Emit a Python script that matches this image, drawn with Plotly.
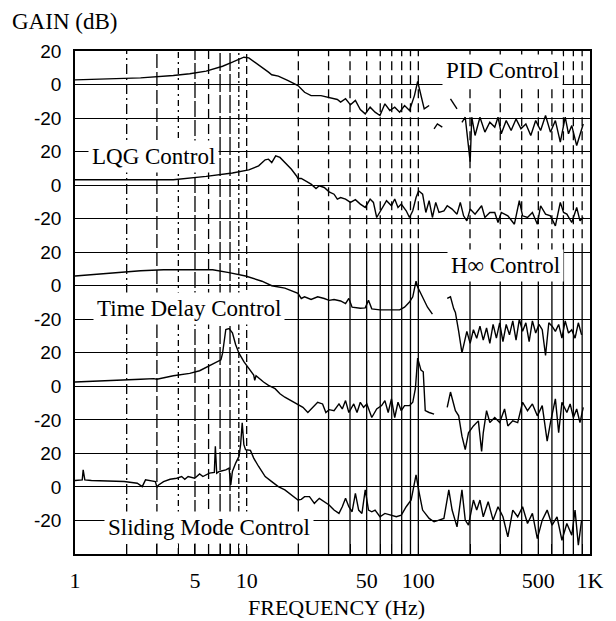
import plotly.graph_objects as go

# ---------------- data (frequency in Hz, gain in dB) ----------------
PID_FREQ = [1.0, 1.55, 2.41, 3.74, 4.66, 5.81, 7.24, 8.26, 9.02, 9.63, 10.29, 10.99, 12.27, 13.4, 14.0,
            15.29, 17.44, 19.9, 21.74, 23.73, 27.08, 30.9, 33.74, 35.26, 37.67, 40.24, 42.99, 45.92, 49.05,
            52.39, 55.97, 59.78, 63.86, 68.21, 72.86, 77.82, 83.13, 88.8, 94.9, 99.1, 103.6, 108.2, 115.6,
            None, 123.5, 129.1, 137.9, None, 153.9, 160.8, 168.0, None, 179.5, 187.6, 200.4, 204.8, 214.0,
            228.6, 244.2, 260.9, 278.7, 291.2, 304.3, 325.0, 347.2, 370.8, 396.1, 423.1, 451.9, 482.7,
            515.6, 550.8, 588.3, 628.5, 671.4, 717.2, 749.4, 783.1, 836.5, 874.1, 913.5]
PID_GAIN = [2.8, 3.2, 4.0, 5.4, 6.4, 8.0, 10.9, 13.3, 15.3, 16.3, 15.9, 13.9, 10.3, 7.4, 5.8,
            5.0, 2.4, -0.6, -4.6, -6.6, -6.6, -8.0, -8.9, -10.5, -8.5, -12.1, -9.5, -14.9, -17.5,
            -13.5, -16.5, -18.5, -11.5, -15.5, -13.5, -16.5, -12.5, -15.5, -6.6, 1.8, -5.6, -14.5, -12.5,
            None, -26.4, -23.5, -25.4, None, -8.5, -11.5, -14.5, None, -22.5, -19.5, -46.0, -19.5, -30.4,
            -19.5, -28.4, -22.5, -25.4, -19.5, -29.4, -21.5, -27.4, -20.5, -26.4, -23.5, -30.4, -21.5,
            -27.4, -18.5, -28.4, -21.5, -34.4, -19.5, -29.4, -24.5, -36.4, -30.4, -23.5]

LQG_FREQ = [1.0, 3.74, 5.81, 8.26, 10.29, 11.74, 12.82, 13.4, 14.0, 14.76, 15.63, 16.69, 18.23, 19.47,
            19.9, 20.8, 21.74, 23.73, 25.35, 26.49, 28.3, 30.22, 32.28, 33.74, 35.26, 37.67, 40.24, 42.99,
            45.92, 49.05, 52.39, 54.75, 57.21, 61.11, 65.28, 69.72, 72.86, 76.13, 79.55, 84.98, 88.8, 92.8,
            96.97, 100.4, 105.9, 110.6, 115.6, 120.8, 126.3, 131.9, 140.9, 147.3, 157.3, 168.0, 175.6,
            183.5, 191.7, 200.4, 214.0, 233.7, 244.2, 260.9, 278.7, 291.2, 304.3, 332.2, 362.8, 387.5,
            404.9, 432.5, 461.9, 493.4, 515.6, 550.8, 588.3, 628.5, 671.4, 701.6, 733.1, 783.1, 836.5,
            874.1, 913.5]
LQG_GAIN = [3.2, 3.2, 5.2, 7.2, 9.1, 11.5, 15.1, 15.5, 13.5, 17.5, 16.5, 13.5, 9.5, 5.6,
            4.0, 4.0, 3.0, 0.6, -2.0, -0.4, -1.4, -4.0, -5.4, -8.3, -7.4, -8.3, -10.3, -8.7,
            -11.3, -13.3, -8.3, -10.3, -19.3, -14.3, -9.3, -12.3, -8.3, -13.3, -11.3, -15.3, -19.3, -15.3,
            -7.4, -3.4, -5.4, -16.3, -9.3, -19.3, -10.3, -16.3, -15.3, -12.3, -14.3, -17.3, -10.3,
            -18.3, -21.3, -14.3, -17.3, -12.3, -19.3, -16.3, -16.3, -22.3, -16.3, -18.3, -23.3, -9.3,
            -18.3, -19.3, -16.3, -23.3, -12.3, -17.3, -18.3, -24.3, -10.3, -16.3, -17.3, -22.3, -13.3,
            -21.3, -19.3]

HINF_FREQ = [1.0, 1.553, 2.41, 3.28, 4.66, 6.34, 7.9, 9.85, 12.27, 14.0, 16.69, 19.9, 20.8, 21.74,
             23.73, 25.92, 28.3, 30.22, 32.28, 35.26, 37.67, 39.37, 41.13, 45.92, 49.05, 51.25, 53.56,
             59.78, 68.21, 77.82, 83.13, 88.8, 92.8, 96.97, 99.1, 105.9, 113.1, 120.8, None,
             147.3, 153.9, 160.8, 164.4, 171.8, 179.5, 191.7, 200.4, 209.4, 218.8, 228.6, 238.9, 249.7,
             260.9, 272.6, 284.9, 297.7, 311.1, 325.0, 339.6, 354.9, 370.8, 387.5, 404.9, 423.1, 442.1,
             461.9, 482.7, 504.4, 527.0, 550.8, 575.5, 601.4, 628.5, 656.8, 686.3, 717.2, 749.4, 783.1,
             818.3, 855.1, 893.6]
HINF_GAIN = [5.8, 7.4, 8.9, 9.5, 9.5, 9.5, 7.8, 5.8, 2.7, 0.0, -1.4, -4.5, -7.6, -6.6,
             -8.2, -6.6, -7.6, -8.7, -8.2, -9.1, -10.7, -7.6, -12.8, -13.4, -13.2, -8.7, -13.8,
             -14.4, -14.4, -14.4, -12.8, -9.7, -6.6, 2.7, -0.8, -6.6, -12.8, -16.9, None,
             -7.6, -6.6, -13.8, -15.9, -27.2, -40.0, -27.2, -34.4, -26.2, -31.3, -24.1, -32.4, -25.2,
             -34.4, -23.1, -31.3, -22.1, -33.4, -23.1, -29.3, -21.0, -32.4, -20.0, -27.2, -22.1, -33.4,
             -21.0, -28.2, -23.1, -26.2, -41.6, -22.1, -24.1, -27.2, -23.1, -31.3, -21.0, -28.2, -26.2,
             -31.3, -22.1, -29.3]

TDC_FREQ = [1.0, 1.553, 2.41, 2.87, 3.0, 3.74, 4.66, 5.32, 6.07, 6.63, 7.08, 7.24, 7.40, 7.56, 7.9,
            8.26, 8.63, 9.02, 9.63, 10.29, 10.99, 11.14, 11.34, 12.54, 13.4, 14.64, 15.63, 16.69, 18.23,
            19.9, 21.27, 22.72, 24.26, 25.92, 27.68, 28.93, 30.22, 32.28, 34.49, 36.05, 37.67, 39.37,
            42.05, 43.94, 45.92, 47.98, 50.14, 53.56, 57.21, 61.11, 63.86, 66.73, 69.72, 72.86, 76.13,
            79.55, 83.13, 88.8, 92.8, 96.1, 99.1, 103.6, 106.8, 109.7, 115.6, 123.5, None, 147.3,
            153.9, 164.4, 171.8, 179.5, 187.6, 196.0, 209.4, 223.7, 233.7, 238.9, 249.7, 260.9, 278.7,
            297.7, 317.9, 332.2, 354.9, 379.1, 404.9, 432.5, 461.9, 493.4, 527.0, 563.0, 588.3, 628.5,
            656.8, 686.3, 733.1, 766.1, 800.5, 836.5, 874.1, 913.5]
TDC_GAIN = [2.6, 3.2, 4.2, 4.6, 4.2, 6.3, 7.7, 9.3, 12.3, 14.7, 15.8, 19.8, 26.9, 33.9, 34.5,
            31.9, 24.8, 19.8, 14.7, 10.7, 6.7, 3.6, 6.3, 2.6, 0.6, -1.4, -4.4, -6.5, -8.5,
            -10.5, -12.5, -15.6, -12.5, -9.5, -10.5, -15.6, -13.9, -14.5, -10.5, -13.5, -8.5, -15.6,
            -10.5, -15.6, -9.5, -12.5, -10.5, -18.6, -13.5, -11.5, -8.5, -15.6, -7.5, -18.6, -9.5,
            -14.5, -11.5, -11.5, -9.5, -1.4, 16.8, 9.7, 8.7, -14.5, -15.6, -16.6, None, -12.5,
            -3.4, -14.5, -17.6, -29.7, -37.8, -27.7, -23.6, -20.6, -38.8, -27.7, -14.5, -21.6, -18.6,
            -21.6, -13.5, -23.6, -20.6, -21.6, -9.5, -14.5, -10.5, -17.6, -11.5, -32.7, -21.6, -7.5,
            -27.7, -9.5, -15.6, -10.5, -18.6, -13.5, -21.6, -12.5]

SMC_FREQ = [1.0, 1.102, 1.116, 1.141, 1.246, 1.934, 2.306, 2.464, 2.575, 2.75, 2.938, 3.003, 3.07,
            3.28, 3.58, 3.91, 4.18, 4.36, 4.56, 4.98, 5.32, 5.56, 6.07, 6.48, 6.57, 6.69, 6.93, 7.56,
            7.9, 8.08, 8.26, 8.63, 9.02, 9.22, 9.42, 9.63, 9.85, 10.52, 10.99, 11.74, 12.82, 14.0,
            15.29, 16.69, 18.23, 19.9, 20.8, 21.74, 23.22, 24.8, 26.49, 28.3, 30.22, 32.28, 34.49,
            36.05, 37.67, 39.37, 41.13, 42.99, 44.92, 46.94, 49.05, 51.25, 53.56, 55.97, 59.78, 63.86,
            68.21, 74.48, 79.55, 84.98, 90.8, 96.97, 101.3, 105.9, 115.6, 123.5, 131.9, 140.9, 150.5,
            157.3, 168.0, 179.5, 187.6, 196.0, 209.4, 218.8, 228.6, 238.9, 255.2, 272.6, 291.2, 311.1,
            332.2, 354.9, 379.1, 404.9, 432.5, 461.9, 493.4, 527.0, 563.0, 601.4, 642.5, 686.3, 733.1,
            783.1, 818.3, 855.1, 893.6]
SMC_GAIN = [3.8, 4.2, 10.2, 4.2, 3.8, 3.2, 2.2, 0.2, 4.2, 3.8, 3.2, -0.2, 1.2,
            3.2, 4.6, 5.2, 6.2, 4.6, 6.2, 5.2, 7.8, 6.2, 8.2, 8.6, 24.2, 8.2, 9.2, 10.2,
            11.2, 1.2, 9.2, 14.2, 18.2, 25.2, 38.2, 25.2, 22.2, 21.8, 17.2, 12.2, 6.2, 3.2,
            0.2, -1.8, -4.8, -7.8, -7.4, -5.8, -5.8, -9.8, -6.8, -8.8, -10.8, -13.8, -15.8,
            -11.8, -6.8, -11.8, -14.8, -3.8, -13.8, -15.8, -1.8, -13.8, -14.8, -13.8, -17.8, -15.8,
            -16.8, -17.8, -16.8, -11.8, -7.8, 7.2, -3.8, -13.8, -18.8, -20.8, -19.8, -18.8, -1.8,
            -13.8, -23.8, -1.8, -19.8, -22.8, -7.8, -13.8, -7.8, -17.8, -8.8, -19.8, -11.8, -17.8,
            -29.8, -13.8, -17.8, -11.8, -21.8, -15.8, -30.8, -19.8, -13.8, -22.8, -17.8, -31.8, -21.8,
            -28.8, -13.8, -34.8, -19.8]

CONTROLLERS = ["PID Control", "LQG Control", "H\u221e Control", "Time Delay Control", "Sliding Mode Control"]
SERIES = [(PID_FREQ, PID_GAIN), (LQG_FREQ, LQG_GAIN), (HINF_FREQ, HINF_GAIN),
          (TDC_FREQ, TDC_GAIN), (SMC_FREQ, SMC_GAIN)]

# tick definitions
Y_TICK_LEVELS = [20, 0, -20]
Y_TICK_TEXT = ["20", "0", "-20"]
X_TICK_VALS = [1, 5, 10, 50, 100, 500, 1000]
X_TICK_TEXT = ["1", "5", "10", "50", "100", "500", "1K"]
GRID_FREQS = [2, 3, 4, 5, 6, 7, 8, 9, 10, 20, 30, 40, 50, 60, 70, 80, 90,
              100, 200, 300, 400, 500, 600, 700, 800, 900]

# ---------------- layout constants ----------------
PANEL_OFFSETS = [0, -60, -120, -180, -240]      # each panel spans 60 dB
Y_RANGE = [-280, 20]
SERIF = "Liberation Serif"
SANS = "Liberation Sans"

fig = go.Figure()

for (freq, gain), off in zip(SERIES, PANEL_OFFSETS):
    y = [None if g is None else g + off for g in gain]
    fig.add_trace(go.Scatter(x=freq, y=y, mode="lines", connectgaps=False,
                             line=dict(color="black", width=1.4),
                             showlegend=False, hoverinfo="skip"))

# y ticks: 20 / 0 / -20 for every panel
y_vals, y_text = [], []
for off in PANEL_OFFSETS:
    for lv, tx in zip(Y_TICK_LEVELS, Y_TICK_TEXT):
        y_vals.append(lv + off)
        y_text.append(tx)

# x ticks: short inside ticks at every grid frequency, labels at the decades/fives
x_all = sorted(set(GRID_FREQS + X_TICK_VALS))
x_text = [X_TICK_TEXT[X_TICK_VALS.index(v)] if v in X_TICK_VALS else "" for v in x_all]

# vertical grid lines: broken lines in the first decade, split style elsewhere
FIRST_DECADE_DASH = {2: "10px,4px,2px,4px", 3: "14px,4px", 4: "6px,4px,2px,4px", 5: "16px,3px",
                     6: "10px,5px", 7: "18px,3px", 8: "18px,3px", 9: "6px,3px,2px,3px", 10: "8px,4px"}
SPLIT = 0.60  # paper fraction of the panel-2/3 boundary
shapes = []
for f in GRID_FREQS:
    if f in FIRST_DECADE_DASH:
        shapes.append(dict(type="line", xref="x", yref="paper", x0=f, x1=f, y0=0, y1=1,
                           line=dict(color="black", width=1.3, dash=FIRST_DECADE_DASH[f]), layer="below"))
    else:
        shapes.append(dict(type="line", xref="x", yref="paper", x0=f, x1=f, y0=SPLIT, y1=1,
                           line=dict(color="black", width=1.3, dash="9px,5px"), layer="below"))
        shapes.append(dict(type="line", xref="x", yref="paper", x0=f, x1=f, y0=0, y1=SPLIT,
                           line=dict(color="black", width=1.3, dash="solid"), layer="below"))

# panel labels
LABEL_POS = [(0.713, 0.962), (0.025, 0.791), (0.723, 0.573), (0.034, 0.489), (0.057, 0.052)]
annotations = []
for name, (ax, ay) in zip(CONTROLLERS, LABEL_POS):
    annotations.append(dict(text=name, xref="paper", yref="paper", x=ax, y=ay,
                            xanchor="left", yanchor="middle", showarrow=False,
                            bgcolor="white", borderpad=3,
                            font=dict(family=SERIF, size=23, color="black")))
annotations.append(dict(text="GAIN (dB)", xref="paper", yref="paper", x=-0.126, y=1.058,
                        xanchor="left", yanchor="middle", showarrow=False,
                        font=dict(family=SERIF, size=23, color="black")))
annotations.append(dict(text="FREQUENCY (Hz)", xref="paper", yref="paper", x=0.507, y=-0.107,
                        xanchor="center", yanchor="middle", showarrow=False,
                        font=dict(family=SERIF, size=22, color="black")))

# the page body adds an 8 px offset; the figure is sized so the plot box lands where the reference has it
fig.update_layout(
    width=608, height=613,
    margin=dict(l=67, r=18, t=43, b=67),
    paper_bgcolor="white", plot_bgcolor="white",
    shapes=shapes, annotations=annotations,
    xaxis=dict(type="log", range=[0, 3], tickvals=x_all, ticktext=x_text,
               ticks="inside", ticklen=10, tickwidth=1.3, tickcolor="black",
               showgrid=False, zeroline=False,
               showline=True, linecolor="black", linewidth=1.6, mirror=True,
               ticklabelstandoff=6,
               tickfont=dict(family=SERIF, size=22, color="black")),
    yaxis=dict(range=Y_RANGE, tickvals=y_vals, ticktext=y_text,
               showgrid=True, gridcolor="black", gridwidth=1.4, zeroline=False,
               showline=True, linecolor="black", linewidth=1.6, mirror=True,
               ticks="", ticklabelstandoff=8,
               tickfont=dict(family=SANS, size=19, color="black")),
)

fig.write_html("out.html")
